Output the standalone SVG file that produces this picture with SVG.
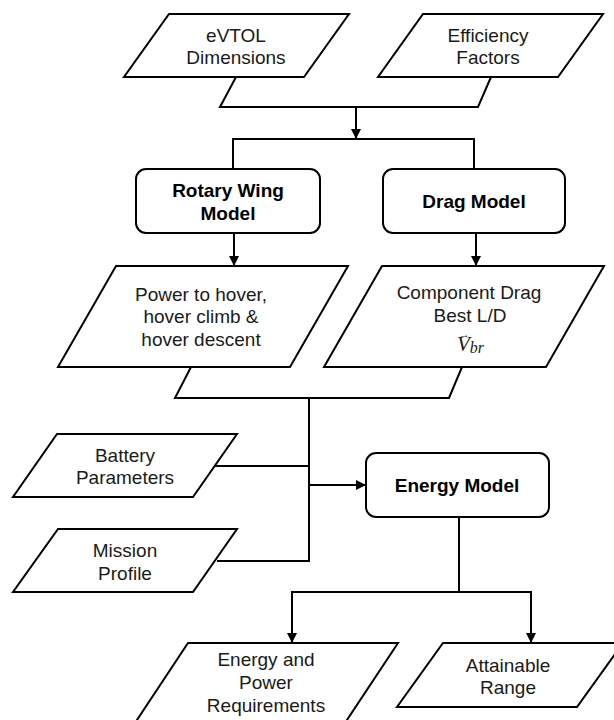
<svg xmlns="http://www.w3.org/2000/svg" width="614" height="720" viewBox="0 0 614 720">
<defs>
<style>
.shape{fill:#fff;stroke:#000;stroke-width:2;stroke-linejoin:miter}
.box{fill:#fff;stroke:#000;stroke-width:2}
.t{font-family:"Liberation Sans",Arial,sans-serif;font-size:19px;fill:#1a1a1a;text-anchor:middle}
.b{font-family:"Liberation Sans",Arial,sans-serif;font-size:19px;font-weight:bold;fill:#000;text-anchor:middle}
.m{font-family:"Liberation Serif","DejaVu Serif",serif;font-size:21px;font-style:italic;fill:#1a1a1a}
.c{fill:none;stroke:#000;stroke-width:2}
</style>
<marker id="ah" viewBox="0 0 10 10" refX="10" refY="5" markerWidth="5" markerHeight="5" orient="auto" markerUnits="strokeWidth">
<path d="M0,0 L10,5 L0,10 z" fill="#000"/>
</marker>
</defs>
<rect width="614" height="720" fill="#fff"/>

<g id="merge-top">
<path class="c" d="M236,77 L220,107 L478,107 L491,77"/>
</g>
<g id="merge-mid">
<path class="c" d="M191,367 L175,398 L449,398 L462,367"/>
</g>

<g id="evtol-dimensions">
<polygon class="shape" points="169,14 349,14 304,77 124,77"/>
<text class="t" x="236" y="42">eVTOL</text>
<text class="t" x="236" y="64">Dimensions</text>
</g>
<g id="efficiency-factors">
<polygon class="shape" points="423,14 603,14 558,77 378,77"/>
<text class="t" x="488" y="42">Efficiency</text>
<text class="t" x="488" y="64">Factors</text>
</g>

<g id="rotary-wing-model">
<rect class="box" x="136" y="169" width="184" height="64" rx="10" ry="10"/>
<text class="b" x="228" y="197">Rotary Wing</text>
<text class="b" x="228" y="220">Model</text>
</g>
<g id="drag-model">
<rect class="box" x="383" y="169" width="182" height="64" rx="10" ry="10"/>
<text class="b" x="474" y="208">Drag Model</text>
</g>

<g id="power-hover">
<polygon class="shape" points="116,266 348,266 290,367 58,367"/>
<text class="t" x="201" y="301">Power to hover,</text>
<text class="t" x="201" y="323">hover climb &amp;</text>
<text class="t" x="201" y="346">hover descent</text>
</g>
<g id="component-drag">
<polygon class="shape" points="382,266 604,266 546,367 324,367"/>
<text class="t" x="469" y="299">Component Drag</text>
<text class="t" x="470" y="322">Best L/D</text>
<text class="m" x="457" y="351">V<tspan font-size="11" font-style="normal" dx="-11" dy="-13">→</tspan><tspan font-size="16" dx="0" dy="15">br</tspan></text>
</g>

<g id="battery-parameters">
<polygon class="shape" points="57,434 237,434 193,497 13,497"/>
<text class="t" x="125" y="462">Battery</text>
<text class="t" x="125" y="484">Parameters</text>
</g>
<g id="mission-profile">
<polygon class="shape" points="58,529 237,529 193,592 13,592"/>
<text class="t" x="125" y="557">Mission</text>
<text class="t" x="125" y="580">Profile</text>
</g>

<g id="energy-model">
<rect class="box" x="366" y="453" width="183" height="64" rx="10" ry="10"/>
<text class="b" x="457" y="492">Energy Model</text>
</g>

<g id="energy-power-requirements">
<polygon class="shape" points="188,643 398,643 337,735 127,735"/>
<text class="t" x="266" y="666">Energy and</text>
<text class="t" x="266" y="689">Power</text>
<text class="t" x="266" y="712">Requirements</text>
</g>
<g id="attainable-range">
<polygon class="shape" points="443,643 623,643 577,707 397,707"/>
<text class="t" x="508" y="672">Attainable</text>
<text class="t" x="508" y="694">Range</text>
</g>

<g id="connectors">
<path class="c" d="M356,107 V139" marker-end="url(#ah)"/>
<path class="c" d="M233,169 V139 H474 V169"/>
<path class="c" d="M234,233 V266" marker-end="url(#ah)"/>
<path class="c" d="M476,233 V266" marker-end="url(#ah)"/>
<path class="c" d="M309,398 V561 H217"/>
<path class="c" d="M215,466 H309"/>
<path class="c" d="M309,485 H366" marker-end="url(#ah)"/>
<path class="c" d="M459,517 V592"/>
<path class="c" d="M292,600 V592 H531 V600"/>
<path class="c" d="M292,599 V643" marker-end="url(#ah)"/>
<path class="c" d="M531,599 V643" marker-end="url(#ah)"/>
</g>
</svg>
